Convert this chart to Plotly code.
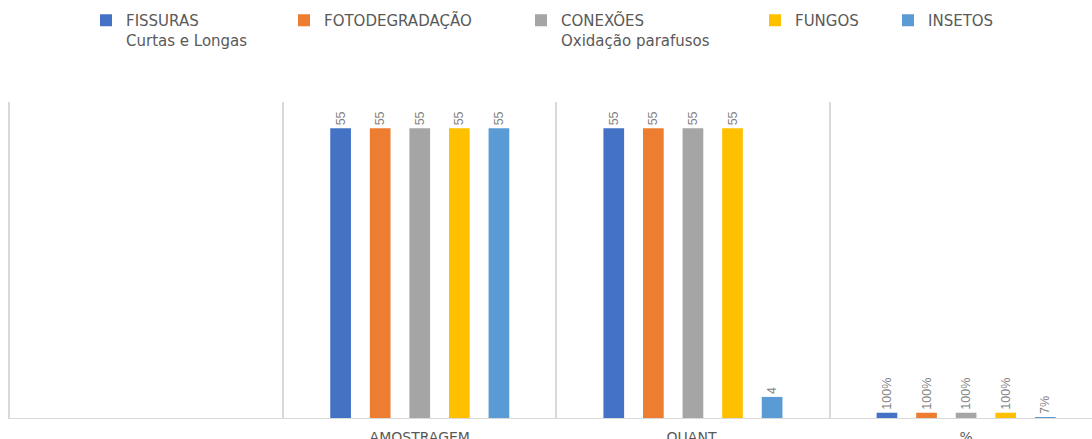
import plotly.graph_objects as go

categories = [" ", "AMOSTRAGEM", "QUANT.", "%"]
series_names = [
    "FISSURAS<br>Curtas e Longas",
    "FOTODEGRADAÇÃO",
    "CONEXÕES<br>Oxidação parafusos",
    "FUNGOS",
    "INSETOS",
]
fissuras = [None, 55, 55, 1.00]
fotodegradacao = [None, 55, 55, 1.00]
conexoes = [None, 55, 55, 1.00]
fungos = [None, 55, 55, 1.00]
insetos = [None, 55, 4, 0.07]
colors = ["#4472C4", "#ED7D31", "#A5A5A5", "#FFC000", "#5B9BD5"]
series_values = [fissuras, fotodegradacao, conexoes, fungos, insetos]

# legend text-start positions (px)
legend_x_px = [126, 324, 561, 795, 928]

W, H = 1092, 439


def label(cat, v):
    if v is None:
        return ""
    if cat == "%":
        return f"{v:.0%}"
    return f"{v:g}"


fig = go.Figure()
for i, (name, vals, col) in enumerate(zip(series_names, series_values, colors)):
    lg = "legend" if i == 0 else f"legend{i+1}"
    fig.add_trace(go.Bar(
        name=name,
        x=categories,
        y=vals,
        marker=dict(color=col, line=dict(width=0)),
        text=[label(c, v) for c, v in zip(categories, vals)],
        textposition="outside",
        textangle=-90,
        constraintext="none",
        cliponaxis=False,
        textfont=dict(family="Liberation Sans", size=12.5, color="#7f7f7f"),
        legend=lg,
    ))

legend_common = dict(
    xref="container", yref="container",
    xanchor="left", yanchor="top",
    y=1 - 4 / H,
    bgcolor="rgba(0,0,0,0)",
    borderwidth=0,
    valign="top",
    font=dict(family="DejaVu Sans", size=15, color="#595959"),
    itemclick=False, itemdoubleclick=False,
)
layout_legends = {}
for i, px in enumerate(legend_x_px):
    key = "legend" if i == 0 else f"legend{i+1}"
    layout_legends[key] = dict(legend_common, x=(px - 40) / W)

plot_left = 9.5
cat_w = 273.3
x_max = -0.5 + (W - plot_left) / cat_w

fig.update_layout(
    width=W, height=H,
    margin=dict(l=plot_left, r=0, t=102, b=21, pad=0, autoexpand=False),
    paper_bgcolor="white",
    plot_bgcolor="white",
    barmode="group",
    bargap=0.2755,
    bargroupgap=0.477,
    showlegend=True,
    **layout_legends,
    xaxis=dict(
        type="category",
        categoryorder="array",
        categoryarray=categories,
        range=[-0.5, x_max],
        tickson="boundaries",
        showgrid=True,
        gridcolor="#d9d9d9",
        gridwidth=1.5,
        showline=True,
        linecolor="#d9d9d9",
        linewidth=1,
        ticks="",
        ticklabelstandoff=6,
        tickfont=dict(family="DejaVu Sans", size=14, color="#595959"),
        automargin=False,
        zeroline=False,
    ),
    yaxis=dict(
        range=[0, 60],
        showticklabels=False,
        ticks="",
        showgrid=False,
        zeroline=False,
        showline=True,
        linecolor="#d9d9d9",
        linewidth=1.5,
        automargin=False,
    ),
)

fig.write_html("out.html")
